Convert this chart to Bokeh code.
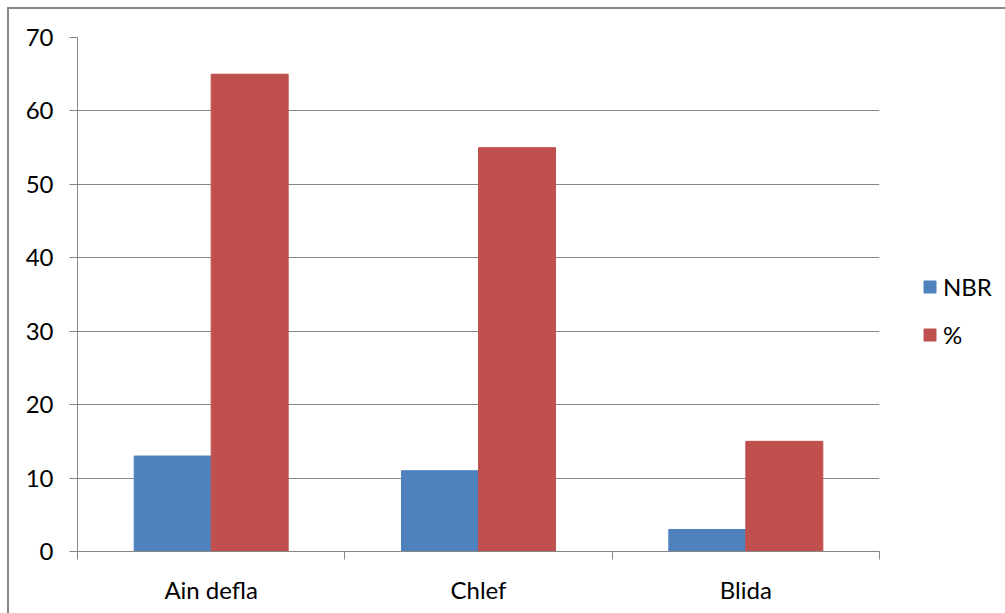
from bokeh.plotting import figure
from bokeh.models import ColumnDataSource, FixedTicker, Legend, LegendItem, Range1d
from bokeh.embed import file_html
from bokeh.resources import INLINE
import numpy as np

# Data
regions = ["Ain defla", "Chlef", "Blida"]
nbr = [13, 11, 3]
pct = [65, 55, 15]
y_ticks = [0, 10, 20, 30, 40, 50, 60, 70]

BLUE = "#4F81BD"
RED = "#C0504D"
GRID = "#868686"
FONT = "Lato"
FS = "24px"

idx = np.arange(len(regions))
centers = idx + 0.5
bar_w = 0.288

src_nbr = ColumnDataSource(dict(x=centers - bar_w / 2, top=nbr))
src_pct = ColumnDataSource(dict(x=centers + bar_w / 2, top=pct))

p = figure(
    frame_width=802, frame_height=514,
    x_range=Range1d(0, len(regions)), y_range=Range1d(0, 70),
    output_backend="svg", toolbar_location=None,
    min_border_left=68, min_border_top=28, min_border_bottom=62, min_border_right=0,
)
p.styles = {"border-top": "2px solid #878787", "border-left": "2px solid #878787",
            "margin-left": "7px", "margin-top": "7px"}
p.outline_line_color = None
p.background_fill_color = "white"
p.border_fill_color = "white"

r1 = p.vbar(x="x", top="top", width=bar_w, bottom=0, source=src_nbr,
            fill_color=BLUE, line_color=BLUE)
r2 = p.vbar(x="x", top="top", width=bar_w, bottom=0, source=src_pct,
            fill_color=RED, line_color=RED)

# y axis
p.yaxis.ticker = FixedTicker(ticks=y_ticks)
p.yaxis.axis_line_color = GRID
p.yaxis.major_tick_line_color = GRID
p.yaxis.major_tick_out = 8
p.yaxis.major_tick_in = 0
p.yaxis.minor_tick_line_color = None
p.yaxis.major_label_standoff = 16
p.yaxis.major_label_text_font = FONT
p.yaxis.major_label_text_font_size = FS
p.yaxis.major_label_text_color = "black"

# x axis: labels at category centres, tick marks at boundaries
p.xaxis.ticker = FixedTicker(ticks=list(centers), minor_ticks=list(np.arange(len(regions) + 1)))
p.xaxis.major_label_overrides = {float(c): r for c, r in zip(centers, regions)}
p.xaxis.major_tick_line_color = None
p.xaxis.minor_tick_line_color = GRID
p.xaxis.minor_tick_out = 8
p.xaxis.minor_tick_in = 0
p.xaxis.axis_line_color = GRID
p.xaxis.major_label_standoff = 15
p.xaxis.major_label_text_font = FONT
p.xaxis.major_label_text_font_size = FS
p.xaxis.major_label_text_color = "black"

p.xgrid.grid_line_color = None
p.ygrid.ticker = FixedTicker(ticks=y_ticks[1:])
p.ygrid.grid_line_color = GRID

legend = Legend(items=[LegendItem(label="NBR", renderers=[r1]),
                       LegendItem(label="%", renderers=[r2])],
                location=(43, 202))
legend.glyph_width = 15
legend.glyph_height = 15
legend.label_text_font = FONT
legend.label_text_font_size = FS
legend.label_text_color = "black"
legend.spacing = 19
legend.border_line_color = None
legend.background_fill_alpha = 0
legend.label_standoff = 6
legend.padding = 0
legend.margin = 0
p.add_layout(legend, "right")
p.min_border_right = 0

open("out.html", "w").write(file_html(p, INLINE))
